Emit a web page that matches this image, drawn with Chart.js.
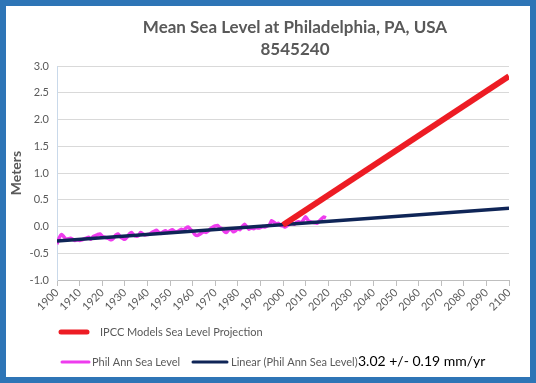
<!DOCTYPE html>
<html>
<head>
<meta charset="utf-8">
<script src="https://cdn.jsdelivr.net/npm/chart.js@4.4.1/dist/chart.umd.min.js"></script>
<style>
  html, body { margin: 0; padding: 0; background: #fff; }
  #frame {
    width: 536px; height: 383px; box-sizing: border-box;
    border: 6px solid #2e75b6; background: #fff;
  }
  #frame canvas { display: block; }
</style>
</head>
<body>
<div id="frame"><canvas id="seaChart" width="524" height="371"></canvas></div>
<script>
  "use strict";

  // Annual mean sea level (m), Philadelphia 8545240, 1900-2019
  const philYears = [];
  for (let y = 1900; y <= 2019; y++) philYears.push(y);
  const philLevels = [
    -0.33, -0.21, -0.15, -0.19, -0.24, -0.23, -0.22, -0.24, -0.26, -0.25,
    -0.26, -0.25, -0.23, -0.22, -0.20, -0.24, -0.19, -0.17, -0.15, -0.14,
    -0.18, -0.20, -0.21, -0.23, -0.25, -0.22, -0.16, -0.14, -0.19, -0.22,
    -0.24, -0.20, -0.14, -0.11, -0.16, -0.18, -0.17, -0.11, -0.14, -0.16,
    -0.15, -0.14, -0.11, -0.09, -0.07, -0.11, -0.13, -0.10, -0.08, -0.11,
    -0.08, -0.06, -0.09, -0.10, -0.08, -0.05, -0.07, -0.03, -0.01, -0.05,
    -0.09, -0.15, -0.17, -0.15, -0.12, -0.10, -0.11, -0.08, -0.04, -0.01,
     0.01,  0.02, -0.02, -0.04, -0.09, -0.11, -0.06, -0.05, -0.10, -0.08,
    -0.04, -0.06,  0.00,  0.04, -0.01, -0.05, -0.03, -0.04, -0.02, -0.03,
    -0.02,  0.00, -0.01,  0.01,  0.03,  0.11,  0.08,  0.05,  0.06,  0.02,
     0.01, -0.01,  0.02,  0.05,  0.06,  0.04,  0.08,  0.09,  0.07,  0.12,
     0.18,  0.12,  0.09,  0.08,  0.07,  0.06,  0.10,  0.14,  0.18,  0.16
  ];

  // Linear trend endpoints and IPCC projection endpoints
  const trendYears = [1900, 2100];
  const trendLevels = [-0.27, 0.34];
  const ipccYears = [2000, 2100];
  const ipccLevels = [0.03, 2.81];

  const titleLines = ["Mean Sea Level at Philadelphia, PA, USA", "8545240"];
  const rateText = "3.02 +/- 0.19 mm/yr";

  const colors = {
    ipcc: "#ed1c24",
    phil: "#ee3cee",
    trend: "#0f2557",
    text: "#595959",
  };

  const toPoints = (xs, ys) => xs.map((x, i) => ({ x: x, y: ys[i] }));

  const font = "Lato, 'Open Sans', sans-serif";

  // Title + custom legend, drawn on the canvas
  const decorPlugin = {
    id: "decor",
    afterDraw(chart) {
      const ctx = chart.ctx;
      ctx.save();
      ctx.fillStyle = colors.text;
      ctx.textAlign = "center";
      ctx.textBaseline = "middle";
      ctx.font = "bold 17px " + font;
      ctx.fillText(titleLines[0], 289, 22);
      ctx.fillText(titleLines[1], 289, 44);

      const sample = (x1, x2, y, color, w) => {
        ctx.strokeStyle = color;
        ctx.lineWidth = w;
        ctx.lineCap = "round";
        ctx.beginPath();
        ctx.moveTo(x1, y);
        ctx.lineTo(x2, y);
        ctx.stroke();
      };

      ctx.textAlign = "left";
      ctx.font = "11px " + font;
      sample(55, 81, 326, colors.ipcc, 5);
      ctx.fillText("IPCC Models Sea Level Projection", 94, 326);

      sample(56, 83, 356, colors.phil, 3);
      ctx.fillText("Phil Ann Sea Level", 86, 356);
      sample(187, 221, 356, colors.trend, 3);
      ctx.fillText("Linear (Phil Ann Sea Level)", 225, 356);

      ctx.fillStyle = "#000";
      ctx.font = "14px " + font;
      ctx.fillText(rateText, 352, 355);
      ctx.restore();
    },
  };

  new Chart(document.getElementById("seaChart"), {
    type: "line",
    data: {
      datasets: [
        {
          label: "IPCC Models Sea Level Projection",
          data: toPoints(ipccYears, ipccLevels),
          borderColor: colors.ipcc,
          borderWidth: 6,
          pointRadius: 0,
          order: 0,
        },
        {
          label: "Linear (Phil Ann Sea Level)",
          data: toPoints(trendYears, trendLevels),
          borderColor: colors.trend,
          borderWidth: 3.5,
          pointRadius: 0,
          order: 1,
        },
        {
          label: "Phil Ann Sea Level",
          data: toPoints(philYears, philLevels),
          borderColor: colors.phil,
          borderWidth: 3.5,
          pointRadius: 0,
          tension: 0.2,
          order: 2,
        },
      ],
    },
    options: {
      responsive: false,
      animation: false,
      layout: { padding: { left: 0, right: 21, top: 60, bottom: 57 } },
      plugins: {
        legend: { display: false },
        title: { display: false },
        tooltip: { enabled: false },
      },
      scales: {
        x: {
          type: "linear",
          min: 1900,
          max: 2100,
          afterFit: (s) => { s.height = 40; },
          grid: {
            display: true,
            drawOnChartArea: false,
            drawTicks: true,
            tickLength: 6,
            color: "#bfbfbf",
          },
          border: { color: "#bfbfbf", width: 1 },
          ticks: {
            stepSize: 10,
            minRotation: 45,
            maxRotation: 45,
            autoSkip: false,
            padding: 0,
            color: colors.text,
            font: { family: font, size: 11 },
            callback: (v) => String(v),
          },
        },
        y: {
          min: -1,
          max: 3,
          afterFit: (s) => { s.width = 51; },
          grid: { color: "#d9d9d9", drawTicks: false },
          border: { color: "#c9d9ea", width: 1 },
          ticks: {
            stepSize: 0.5,
            padding: 8,
            color: colors.text,
            font: { family: font, size: 11 },
            callback: (v) => v.toFixed(1),
          },
          title: {
            display: true,
            text: "Meters",
            color: colors.text,
            font: { family: font, size: 14, weight: "bold" },
            padding: { top: 2, bottom: 0 },
          },
        },
      },
    },
    plugins: [decorPlugin],
  });
</script>
</body>
</html>
